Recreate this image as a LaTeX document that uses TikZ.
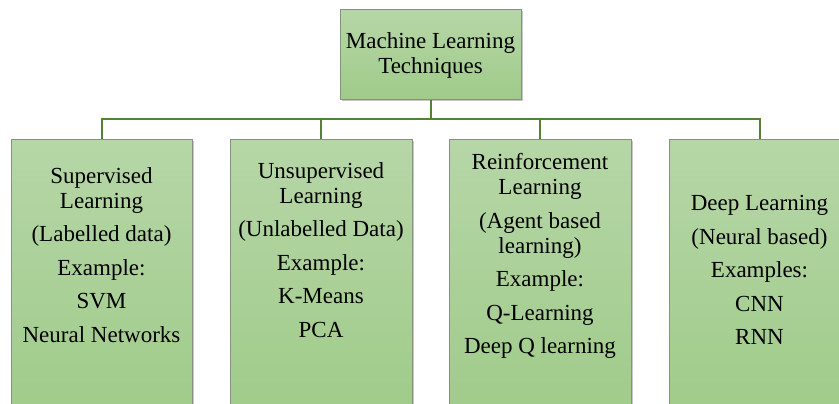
\documentclass[tikz,border=0pt]{standalone}
\usepackage{fontspec}
\setmainfont{LiberationSerif}[Extension=.ttf, UprightFont=*-Regular, BoldFont=*-Bold]
\usetikzlibrary{shadows}
\definecolor{gtop}{RGB}{182,214,167}
\definecolor{gbot}{RGB}{159,203,137}
\definecolor{bord}{RGB}{135,145,130}
\definecolor{connc}{RGB}{84,130,53}
\begin{document}
\begin{tikzpicture}[x=1pt,y=-1pt,
  box/.style={rectangle, draw=bord, line width=1pt, top color=gtop, bottom color=gbot, inner sep=0pt,
    general shadow={shadow xshift=1.5pt, shadow yshift=-1.5pt, fill=black!22}},
  txt/.style={align=center, font=\rmfamily\fontsize{23}{25}\selectfont, inner sep=0pt, text=black},
  conn/.style={draw=connc, line width=2pt}]
\useasboundingbox (0,0) rectangle (839,404);
% boxes
\node[box, minimum width=181pt, minimum height=90pt] (top) at (430.5,55) {};
\node[box, minimum width=181pt, minimum height=281pt] (b1) at (101.5,279.5) {};
\node[box, minimum width=182pt, minimum height=281pt] (b2) at (321,279.5) {};
\node[box, minimum width=182pt, minimum height=281pt] (b3) at (540,279.5) {};
\node[box, minimum width=181pt, minimum height=281pt] (b4) at (759.5,279.5) {};
% texts
\node[txt] (ttop) at (top.center) {Machine Learning\\Techniques};
\node[txt] (t1) at (101.5,255) {Supervised\\Learning\\[8.5pt](Labelled data)\\[8.5pt]Example:\\[8.5pt]SVM\\[8.5pt]Neural Networks};
\node[txt] (t2) at (321,250) {Unsupervised\\Learning\\[8.5pt](Unlabelled Data)\\[8.5pt]Example:\\[8.5pt]K-Means\\[8.5pt]PCA};
\node[txt] (t3) at (540,256) {Reinforcement\\Learning\\[8.5pt](Agent based\\learning)\\[8.5pt]Example:\\[8.5pt]Q-Learning\\[8.5pt]Deep Q learning};
\node[txt] (t4) at (759.5,270) {Deep Learning\\[8.5pt](Neural based)\\[8.5pt]Examples:\\[8.5pt]CNN\\[8.5pt]RNN};
% connectors
\coordinate (j) at (430.5,119);
\draw[conn] (top.south) -- (j);
\draw[conn] (b1.north) |- (j);
\draw[conn] (b2.north) |- (j);
\draw[conn] (b3.north) |- (j);
\draw[conn] (b4.north) |- (j);
\end{tikzpicture}
\end{document}
